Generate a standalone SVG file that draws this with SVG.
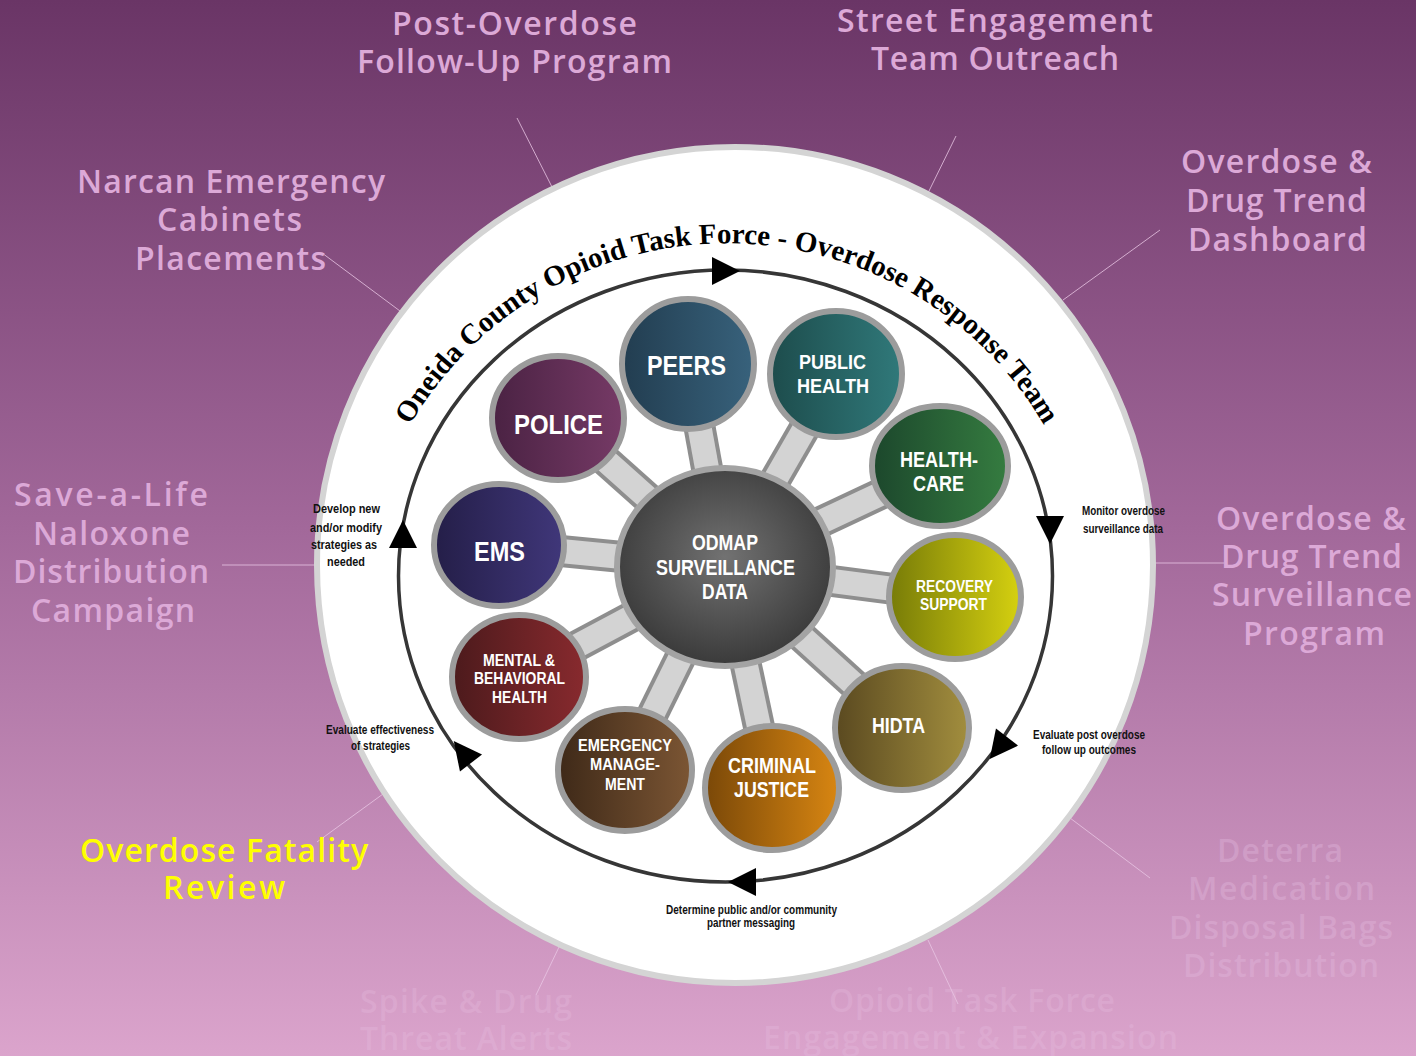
<svg xmlns="http://www.w3.org/2000/svg" xmlns:xlink="http://www.w3.org/1999/xlink" width="1416" height="1056" viewBox="0 0 1416 1056">
<defs>
<linearGradient id="bg" x1="0" y1="0" x2="0" y2="1">
<stop offset="0" stop-color="#6a3566"/>
<stop offset="0.5" stop-color="#a2689a"/>
<stop offset="1" stop-color="#dba4cc"/>
</linearGradient>
<radialGradient id="hubg" cx="0.5" cy="0.45" r="0.55">
<stop offset="0" stop-color="#727272"/>
<stop offset="1" stop-color="#3a3a3a"/>
</radialGradient>
<linearGradient id="g-police"><stop offset="0" stop-color="#4a2243"/><stop offset="1" stop-color="#763a66"/></linearGradient>
<linearGradient id="g-peers"><stop offset="0" stop-color="#223d50"/><stop offset="1" stop-color="#38627c"/></linearGradient>
<linearGradient id="g-ph"><stop offset="0" stop-color="#1d4c4c"/><stop offset="1" stop-color="#30797a"/></linearGradient>
<linearGradient id="g-hc"><stop offset="0" stop-color="#1c472c"/><stop offset="1" stop-color="#357c40"/></linearGradient>
<linearGradient id="g-ems"><stop offset="0" stop-color="#241e48"/><stop offset="1" stop-color="#40377a"/></linearGradient>
<linearGradient id="g-rec"><stop offset="0" stop-color="#777b08"/><stop offset="1" stop-color="#d6d110"/></linearGradient>
<linearGradient id="g-mbh"><stop offset="0" stop-color="#4c1a1c"/><stop offset="1" stop-color="#882a2e"/></linearGradient>
<linearGradient id="g-hidta"><stop offset="0" stop-color="#5a4920"/><stop offset="1" stop-color="#a28e3e"/></linearGradient>
<linearGradient id="g-em"><stop offset="0" stop-color="#3e2918"/><stop offset="1" stop-color="#7c5634"/></linearGradient>
<linearGradient id="g-cj"><stop offset="0" stop-color="#7a4808"/><stop offset="1" stop-color="#d88612"/></linearGradient>
<path id="arr" d="M0,-14 L0,14 L28,0 Z" fill="#000"/>
<path id="titlePath" d="M 412,422 A 367 367 0 0 1 1042,422"/>
<style>
.lbl{font-family:"Open Sans","DejaVu Sans",sans-serif;font-weight:600;font-size:32px;fill:#dca9d7;text-anchor:middle}
.yel{fill:#ffff00}
.faint{fill:#e4bce0;opacity:0.35}
.faint2{fill:#e8c0e2;opacity:0.28}
.lead{stroke:#e8c6e4;stroke-width:1;opacity:0.8;fill:none}
.spokeO{stroke:#8e8e8e;stroke-width:32;stroke-linecap:butt}
.spokeI{stroke:#d3d3d3;stroke-width:24;stroke-linecap:butt}
.node{stroke:#9c9c9c;stroke-width:6}
.nt{font-family:"Liberation Sans",Arial,sans-serif;font-weight:bold;fill:#ffffff;text-anchor:middle}
.sm{font-family:"Liberation Sans",Arial,sans-serif;font-weight:bold;font-size:12px;fill:#111;text-anchor:middle}
.title{font-family:"Liberation Serif","Times New Roman",serif;font-weight:bold;font-size:29px;fill:#000}
</style>
</defs>

<rect x="0" y="0" width="1416" height="1056" fill="url(#bg)"/>

<g id="connectors">
<line class="lead" x1="517" y1="118" x2="552" y2="187"/>
<line class="lead" x1="956" y1="136" x2="928" y2="193"/>
<line class="lead" x1="322" y1="253" x2="400" y2="311"/>
<line class="lead" x1="1160" y1="230" x2="1063" y2="300"/>
<line class="lead" x1="222" y1="565" x2="316" y2="565"/>
<line class="lead" x1="1154" y1="563" x2="1224" y2="563"/>
<line class="lead" x1="383" y1="794" x2="317" y2="842"/>
<line class="lead" x1="1070" y1="818" x2="1150" y2="878"/>
<line class="lead" x1="560" y1="945" x2="536" y2="995"/>
<line class="lead" x1="928" y1="940" x2="958" y2="1004"/>
</g>

<g id="disk">
<circle cx="735" cy="565" r="418" fill="#ffffff" stroke="#d4d4d4" stroke-width="6"/>
</g>

<g id="cycle">
<ellipse cx="725.5" cy="576" rx="327" ry="306" fill="none" stroke="#363636" stroke-width="3.5"/>
<use xlink:href="#arr" transform="translate(712,271)"/>
<use xlink:href="#arr" transform="translate(1050,516) rotate(90)"/>
<use xlink:href="#arr" transform="translate(1007,737) rotate(128)"/>
<use xlink:href="#arr" transform="translate(756,882) rotate(180)"/>
<use xlink:href="#arr" transform="translate(471,763) rotate(-128)"/>
<use xlink:href="#arr" transform="translate(403,548) rotate(-90)"/>
</g>

<g id="title">
<text class="title"><textPath xlink:href="#titlePath" startOffset="50%" text-anchor="middle">Oneida County Opioid Task Force - Overdose Response Team</textPath></text>
</g>

<g id="spokes">
<line class="spokeO" x1="725" y1="567" x2="688" y2="364"/><line class="spokeI" x1="725" y1="567" x2="688" y2="364"/>
<line class="spokeO" x1="725" y1="567" x2="836" y2="374"/><line class="spokeI" x1="725" y1="567" x2="836" y2="374"/>
<line class="spokeO" x1="725" y1="567" x2="558" y2="418"/><line class="spokeI" x1="725" y1="567" x2="558" y2="418"/>
<line class="spokeO" x1="725" y1="567" x2="940" y2="466"/><line class="spokeI" x1="725" y1="567" x2="940" y2="466"/>
<line class="spokeO" x1="725" y1="567" x2="499" y2="545"/><line class="spokeI" x1="725" y1="567" x2="499" y2="545"/>
<line class="spokeO" x1="725" y1="567" x2="955" y2="597"/><line class="spokeI" x1="725" y1="567" x2="955" y2="597"/>
<line class="spokeO" x1="725" y1="567" x2="519" y2="677"/><line class="spokeI" x1="725" y1="567" x2="519" y2="677"/>
<line class="spokeO" x1="725" y1="567" x2="902" y2="728"/><line class="spokeI" x1="725" y1="567" x2="902" y2="728"/>
<line class="spokeO" x1="725" y1="567" x2="625" y2="770"/><line class="spokeI" x1="725" y1="567" x2="625" y2="770"/>
<line class="spokeO" x1="725" y1="567" x2="772" y2="788"/><line class="spokeI" x1="725" y1="567" x2="772" y2="788"/>
</g>

<g id="node-peers">
<ellipse class="node" cx="688" cy="364" rx="66" ry="65" fill="url(#g-peers)"/>
<text class="nt" x="686.5" y="375" font-size="27" textLength="79" lengthAdjust="spacingAndGlyphs">PEERS</text>
</g>
<g id="node-public-health">
<ellipse class="node" cx="836" cy="374" rx="66" ry="63" fill="url(#g-ph)"/>
<text class="nt" x="832.5" y="369" font-size="21" textLength="67" lengthAdjust="spacingAndGlyphs">PUBLIC</text>
<text class="nt" x="833" y="393" font-size="21" textLength="72" lengthAdjust="spacingAndGlyphs">HEALTH</text>
</g>
<g id="node-police">
<ellipse class="node" cx="558" cy="418" rx="66" ry="62" fill="url(#g-police)"/>
<text class="nt" x="558.5" y="434" font-size="28" textLength="89" lengthAdjust="spacingAndGlyphs">POLICE</text>
</g>
<g id="node-healthcare">
<ellipse class="node" cx="940" cy="466" rx="68" ry="60" fill="url(#g-hc)"/>
<text class="nt" x="939" y="467" font-size="22" textLength="78" lengthAdjust="spacingAndGlyphs">HEALTH-</text>
<text class="nt" x="938.5" y="491" font-size="22" textLength="51" lengthAdjust="spacingAndGlyphs">CARE</text>
</g>
<g id="node-ems">
<ellipse class="node" cx="499" cy="545" rx="65" ry="61" fill="url(#g-ems)"/>
<text class="nt" x="499.5" y="561" font-size="28" textLength="51" lengthAdjust="spacingAndGlyphs">EMS</text>
</g>
<g id="node-recovery">
<ellipse class="node" cx="955" cy="597" rx="66" ry="62" fill="url(#g-rec)"/>
<text class="nt" x="954.5" y="592" font-size="16" textLength="77" lengthAdjust="spacingAndGlyphs">RECOVERY</text>
<text class="nt" x="953.5" y="610" font-size="16" textLength="67" lengthAdjust="spacingAndGlyphs">SUPPORT</text>
</g>
<g id="node-mental">
<ellipse class="node" cx="519" cy="677" rx="67" ry="62" fill="url(#g-mbh)"/>
<text class="nt" x="519" y="666" font-size="16" textLength="72" lengthAdjust="spacingAndGlyphs">MENTAL &amp;</text>
<text class="nt" x="519.5" y="684" font-size="16" textLength="91" lengthAdjust="spacingAndGlyphs">BEHAVIORAL</text>
<text class="nt" x="519.5" y="703" font-size="16" textLength="55" lengthAdjust="spacingAndGlyphs">HEALTH</text>
</g>
<g id="node-hidta">
<ellipse class="node" cx="902" cy="728" rx="67" ry="62" fill="url(#g-hidta)"/>
<text class="nt" x="898.5" y="733" font-size="22" textLength="53" lengthAdjust="spacingAndGlyphs">HIDTA</text>
</g>
<g id="node-emergency">
<ellipse class="node" cx="625" cy="770" rx="67" ry="61" fill="url(#g-em)"/>
<text class="nt" x="625" y="751" font-size="17" textLength="94" lengthAdjust="spacingAndGlyphs">EMERGENCY</text>
<text class="nt" x="625" y="770" font-size="17" textLength="70" lengthAdjust="spacingAndGlyphs">MANAGE-</text>
<text class="nt" x="625" y="790" font-size="17" textLength="40" lengthAdjust="spacingAndGlyphs">MENT</text>
</g>
<g id="node-criminal">
<ellipse class="node" cx="772" cy="788" rx="67" ry="62" fill="url(#g-cj)"/>
<text class="nt" x="772" y="773" font-size="22" textLength="88" lengthAdjust="spacingAndGlyphs">CRIMINAL</text>
<text class="nt" x="771.5" y="797" font-size="22" textLength="75" lengthAdjust="spacingAndGlyphs">JUSTICE</text>
</g>
<g id="node-odmap">
<ellipse cx="725" cy="567" rx="108" ry="99" fill="url(#hubg)" stroke="#a3a3a3" stroke-width="6"/>
<text class="nt" x="725" y="550" font-size="22" textLength="66" lengthAdjust="spacingAndGlyphs">ODMAP</text>
<text class="nt" x="725.5" y="575" font-size="22" textLength="139" lengthAdjust="spacingAndGlyphs">SURVEILLANCE</text>
<text class="nt" x="725" y="599" font-size="22" textLength="46" lengthAdjust="spacingAndGlyphs">DATA</text>
</g>

<g id="step-labels">
<text class="sm" x="346.5" y="513" textLength="67" lengthAdjust="spacingAndGlyphs">Develop new</text>
<text class="sm" x="346" y="532" textLength="72" lengthAdjust="spacingAndGlyphs">and/or modify</text>
<text class="sm" x="344" y="549" textLength="66" lengthAdjust="spacingAndGlyphs">strategies as</text>
<text class="sm" x="346" y="566" textLength="38" lengthAdjust="spacingAndGlyphs">needed</text>
<text class="sm" x="380" y="734" textLength="108" lengthAdjust="spacingAndGlyphs">Evaluate effectiveness</text>
<text class="sm" x="380.5" y="750" textLength="59" lengthAdjust="spacingAndGlyphs">of strategies</text>
<text class="sm" x="1123.5" y="515" textLength="83" lengthAdjust="spacingAndGlyphs">Monitor overdose</text>
<text class="sm" x="1123" y="533" textLength="80" lengthAdjust="spacingAndGlyphs">surveillance data</text>
<text class="sm" x="1089" y="739" textLength="112" lengthAdjust="spacingAndGlyphs">Evaluate post overdose</text>
<text class="sm" x="1089" y="754" textLength="94" lengthAdjust="spacingAndGlyphs">follow up outcomes</text>
<text class="sm" x="751.5" y="914" textLength="171" lengthAdjust="spacingAndGlyphs">Determine public and/or community</text>
<text class="sm" x="751" y="927" textLength="88" lengthAdjust="spacingAndGlyphs">partner messaging</text>
</g>

<g id="label-post-overdose">
<text class="lbl" x="514.5" y="35" textLength="245" lengthAdjust="spacing">Post-Overdose</text>
<text class="lbl" x="514.5" y="73" textLength="315" lengthAdjust="spacing">Follow-Up Program</text>
</g>
<g id="label-street">
<text class="lbl" x="995" y="32" textLength="316" lengthAdjust="spacing">Street Engagement</text>
<text class="lbl" x="995" y="70" textLength="248" lengthAdjust="spacing">Team Outreach</text>
</g>
<g id="label-narcan">
<text class="lbl" x="231" y="193" textLength="308" lengthAdjust="spacing">Narcan Emergency</text>
<text class="lbl" x="229.5" y="231" textLength="145" lengthAdjust="spacing">Cabinets</text>
<text class="lbl" x="230.5" y="270" textLength="191" lengthAdjust="spacing">Placements</text>
</g>
<g id="label-dashboard">
<text class="lbl" x="1276.5" y="173" textLength="191" lengthAdjust="spacing">Overdose &amp;</text>
<text class="lbl" x="1276.5" y="212" textLength="181" lengthAdjust="spacing">Drug Trend</text>
<text class="lbl" x="1277.5" y="251" textLength="179" lengthAdjust="spacing">Dashboard</text>
</g>
<g id="label-save">
<text class="lbl" x="111" y="506" textLength="194" lengthAdjust="spacing">Save-a-Life</text>
<text class="lbl" x="111.5" y="545" textLength="157" lengthAdjust="spacing">Naloxone</text>
<text class="lbl" x="111" y="583" textLength="196" lengthAdjust="spacing">Distribution</text>
<text class="lbl" x="113" y="622" textLength="164" lengthAdjust="spacing">Campaign</text>
</g>
<g id="label-surveillance">
<text class="lbl" x="1311" y="530" textLength="190" lengthAdjust="spacing">Overdose &amp;</text>
<text class="lbl" x="1311.5" y="568" textLength="181" lengthAdjust="spacing">Drug Trend</text>
<text class="lbl" x="1312" y="606" textLength="200" lengthAdjust="spacing">Surveillance</text>
<text class="lbl" x="1314" y="645" textLength="142" lengthAdjust="spacing">Program</text>
</g>
<g id="label-fatality">
<text class="lbl yel" x="224" y="862" textLength="288" lengthAdjust="spacing">Overdose Fatality</text>
<text class="lbl yel" x="224" y="899" textLength="122" lengthAdjust="spacing">Review</text>
</g>
<g id="label-deterra">
<text class="lbl faint" x="1280" y="862" textLength="126" lengthAdjust="spacing">Deterra</text>
<text class="lbl faint" x="1281.5" y="900" textLength="187" lengthAdjust="spacing">Medication</text>
<text class="lbl faint" x="1281" y="939" textLength="224" lengthAdjust="spacing">Disposal Bags</text>
<text class="lbl faint" x="1281" y="977" textLength="196" lengthAdjust="spacing">Distribution</text>
</g>
<g id="label-spike">
<text class="lbl faint2" x="466" y="1013" textLength="212" lengthAdjust="spacing">Spike &amp; Drug</text>
<text class="lbl faint2" x="466" y="1050" textLength="212" lengthAdjust="spacing">Threat Alerts</text>
</g>
<g id="label-taskforce">
<text class="lbl faint2" x="972" y="1012" textLength="286" lengthAdjust="spacing">Opioid Task Force</text>
<text class="lbl faint2" x="970.5" y="1049" textLength="415" lengthAdjust="spacing">Engagement &amp; Expansion</text>
</g>
</svg>
